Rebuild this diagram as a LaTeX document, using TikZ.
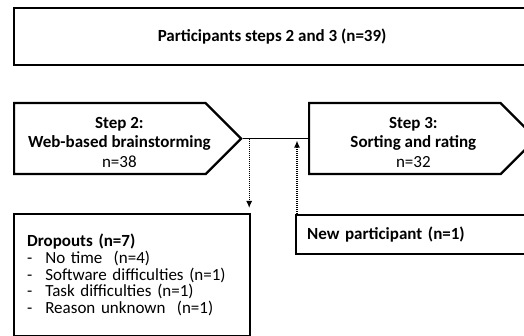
\documentclass[tikz,border=0pt]{standalone}
\usepackage{fontspec}
\setmainfont{Carlito}
\usetikzlibrary{shapes.symbols,arrows.meta}

\tikzset{
  box/.style={rectangle,draw,line width=2.2pt,anchor=north west},
  stepbox/.style={signal,signal to=east,signal pointer angle=90,draw,
    line width=2.2pt,minimum width=227pt,minimum height=71pt,
    anchor=north west,inner sep=0pt},
  steptext/.style={align=center,inner sep=0pt,
    font=\fontsize{17}{19.5}\selectfont},
  dotarrow/.style={line width=1.2pt,dash pattern=on 1pt off 1pt,
    -{Latex[length=7pt,width=6pt]}}
}

\begin{document}
\begin{tikzpicture}[x=1pt,y=-1pt]
\fontsize{17}{19}\selectfont
  \useasboundingbox (0,0) rectangle (524,336);

  \node[box,minimum width=516pt,minimum height=57pt] (part) at (13,7)
    {\textbf{Participants steps 2 and 3 (n=39)}};

  % steps
  \node[stepbox] (step2) at (13,102) {};
  \node[steptext] (step2txt) at ([xshift=9.5pt,yshift=-3.5pt]step2.center)
    {\textbf{Step 2:}\\ \textbf{Web-based brainstorming}\\ n=38};
  \node[stepbox] (step3) at (308,102) {};
  \node[steptext] (step3txt) at ([xshift=8.5pt,yshift=-3.5pt]step3.center)
    {\textbf{Step 3:}\\ \textbf{Sorting and rating}\\ n=32};

  \node[box,minimum width=236pt,minimum height=122pt,text width=210pt,
    align=left,inner sep=0pt,inner xsep=12pt,
    font=\fontsize{17}{16.7}\selectfont] (drop) at (13,213)
    {\textbf{Dropouts (n=7)}\\
     -\hspace{13pt}No time~ (n=4)\\
     -\hspace{13pt}Software difficulties (n=1)\\
     -\hspace{13pt}Task difficulties (n=1)\\
     -\hspace{13pt}Reason unknown~ (n=1)};

  \node[box,minimum width=240pt,minimum height=39pt,text width=218pt,
    align=left,inner sep=0pt,inner xsep=11pt] (newp) at (295,214)
    {\textbf{New participant (n=1)}};

  \draw[line width=1.2pt] (step2.east) -- (step3.west);
  \draw[dotarrow,shorten >=5pt] (step2.east -| drop.north east) ++(-2pt,0)
    -- ([xshift=-2pt]drop.north east);
  \draw[dotarrow,shorten >=2pt] ([xshift=2pt]newp.north west)
    -- ([xshift=2pt]newp.north west |- step3.west);
\end{tikzpicture}
\end{document}
